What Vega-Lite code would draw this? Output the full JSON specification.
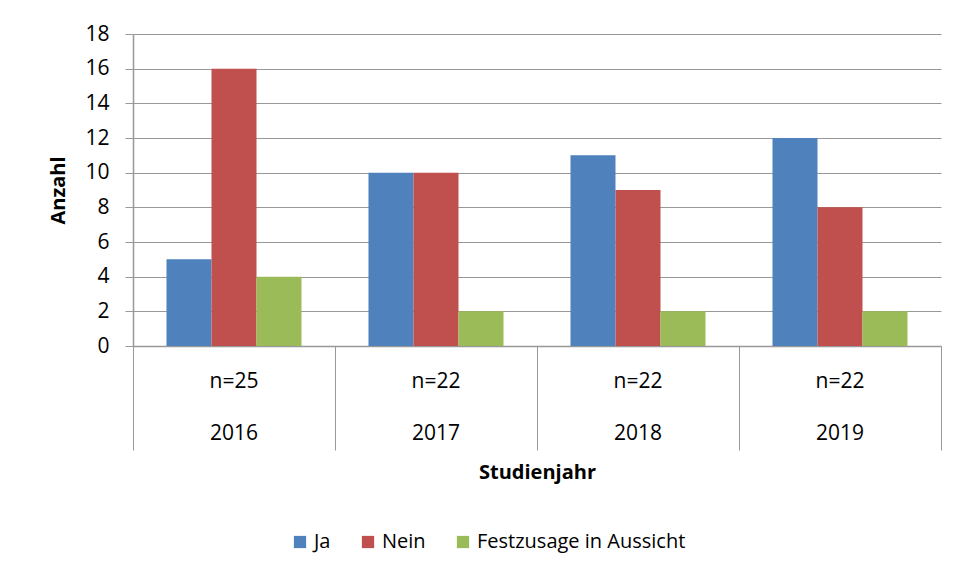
{
  "$schema": "https://vega.github.io/schema/vega-lite/v6.json",
  "width": 808,
  "height": 312,
  "autosize": {"type": "none"},
  "padding": {"left": 133, "top": 34, "right": 16, "bottom": 229},
  "background": "white",
  "config": {
    "font": "Open Sans",
    "view": {"stroke": null},
    "axis": {"labelColor": "#000000", "titleColor": "#000000", "labelFont": "Open Sans", "titleFont": "Open Sans"}
  },
  "data": {
    "values": [
      {"Gruppe": "n=25|2016", "Antwort": "Ja", "Anzahl": 5},
      {"Gruppe": "n=25|2016", "Antwort": "Nein", "Anzahl": 16},
      {"Gruppe": "n=25|2016", "Antwort": "Festzusage in Aussicht", "Anzahl": 4},
      {"Gruppe": "n=22|2017", "Antwort": "Ja", "Anzahl": 10},
      {"Gruppe": "n=22|2017", "Antwort": "Nein", "Anzahl": 10},
      {"Gruppe": "n=22|2017", "Antwort": "Festzusage in Aussicht", "Anzahl": 2},
      {"Gruppe": "n=22|2018", "Antwort": "Ja", "Anzahl": 11},
      {"Gruppe": "n=22|2018", "Antwort": "Nein", "Anzahl": 9},
      {"Gruppe": "n=22|2018", "Antwort": "Festzusage in Aussicht", "Anzahl": 2},
      {"Gruppe": "n=22|2019", "Antwort": "Ja", "Anzahl": 12},
      {"Gruppe": "n=22|2019", "Antwort": "Nein", "Anzahl": 8},
      {"Gruppe": "n=22|2019", "Antwort": "Festzusage in Aussicht", "Anzahl": 2}
    ]
  },
  "mark": {"type": "bar"},
  "encoding": {
    "x": {
      "field": "Gruppe",
      "type": "nominal",
      "sort": ["n=25|2016", "n=22|2017", "n=22|2018", "n=22|2019"],
      "scale": {"paddingInner": 0, "paddingOuter": 0},
      "axis": {
        "orient": "bottom",
        "bandPosition": 1,
        "tickExtra": true,
        "tickSize": 104,
        "tickColor": "#999999",
        "tickWidth": 1,
        "domainColor": "#999999",
        "domainWidth": 1.5,
        "labelAngle": 0,
        "labelFontSize": 21,
        "labelExpr": "split(datum.label, '|')",
        "labelLineHeight": 52,
        "labelBaseline": "top",
        "labelPadding": -80,
        "title": "Studienjahr",
        "titleFontSize": 20,
        "titleFontWeight": "bold",
        "titlePadding": 12
      }
    },
    "xOffset": {
      "field": "Antwort",
      "type": "nominal",
      "sort": ["Ja", "Nein", "Festzusage in Aussicht"],
      "scale": {"paddingInner": 0, "paddingOuter": 0.744}
    },
    "y": {
      "field": "Anzahl",
      "type": "quantitative",
      "scale": {"domain": [0, 18], "nice": false},
      "axis": {
        "values": [0, 2, 4, 6, 8, 10, 12, 14, 16, 18],
        "grid": true,
        "gridColor": "#999999",
        "gridWidth": 1.2,
        "domainColor": "#999999",
        "domainWidth": 1.5,
        "tickColor": "#999999",
        "tickSize": 8,
        "labelFontSize": 21,
        "labelPadding": 16,
        "title": "Anzahl",
        "titleFontSize": 20,
        "titleFontWeight": "bold",
        "titlePadding": 16
      }
    },
    "color": {
      "field": "Antwort",
      "type": "nominal",
      "sort": ["Ja", "Nein", "Festzusage in Aussicht"],
      "scale": {
        "domain": ["Ja", "Nein", "Festzusage in Aussicht"],
        "range": ["#4F81BD", "#C0504D", "#9BBB59"]
      },
      "legend": {
        "orient": "none",
        "legendX": 157,
        "legendY": 498,
        "direction": "horizontal",
        "title": null,
        "symbolType": "square",
        "symbolSize": 150,
        "symbolStrokeWidth": 0,
        "labelFontSize": 20,
        "labelLimit": 400,
        "labelColor": "#000000",
        "columnPadding": 27,
        "labelOffset": 4
      }
    }
  }
}
